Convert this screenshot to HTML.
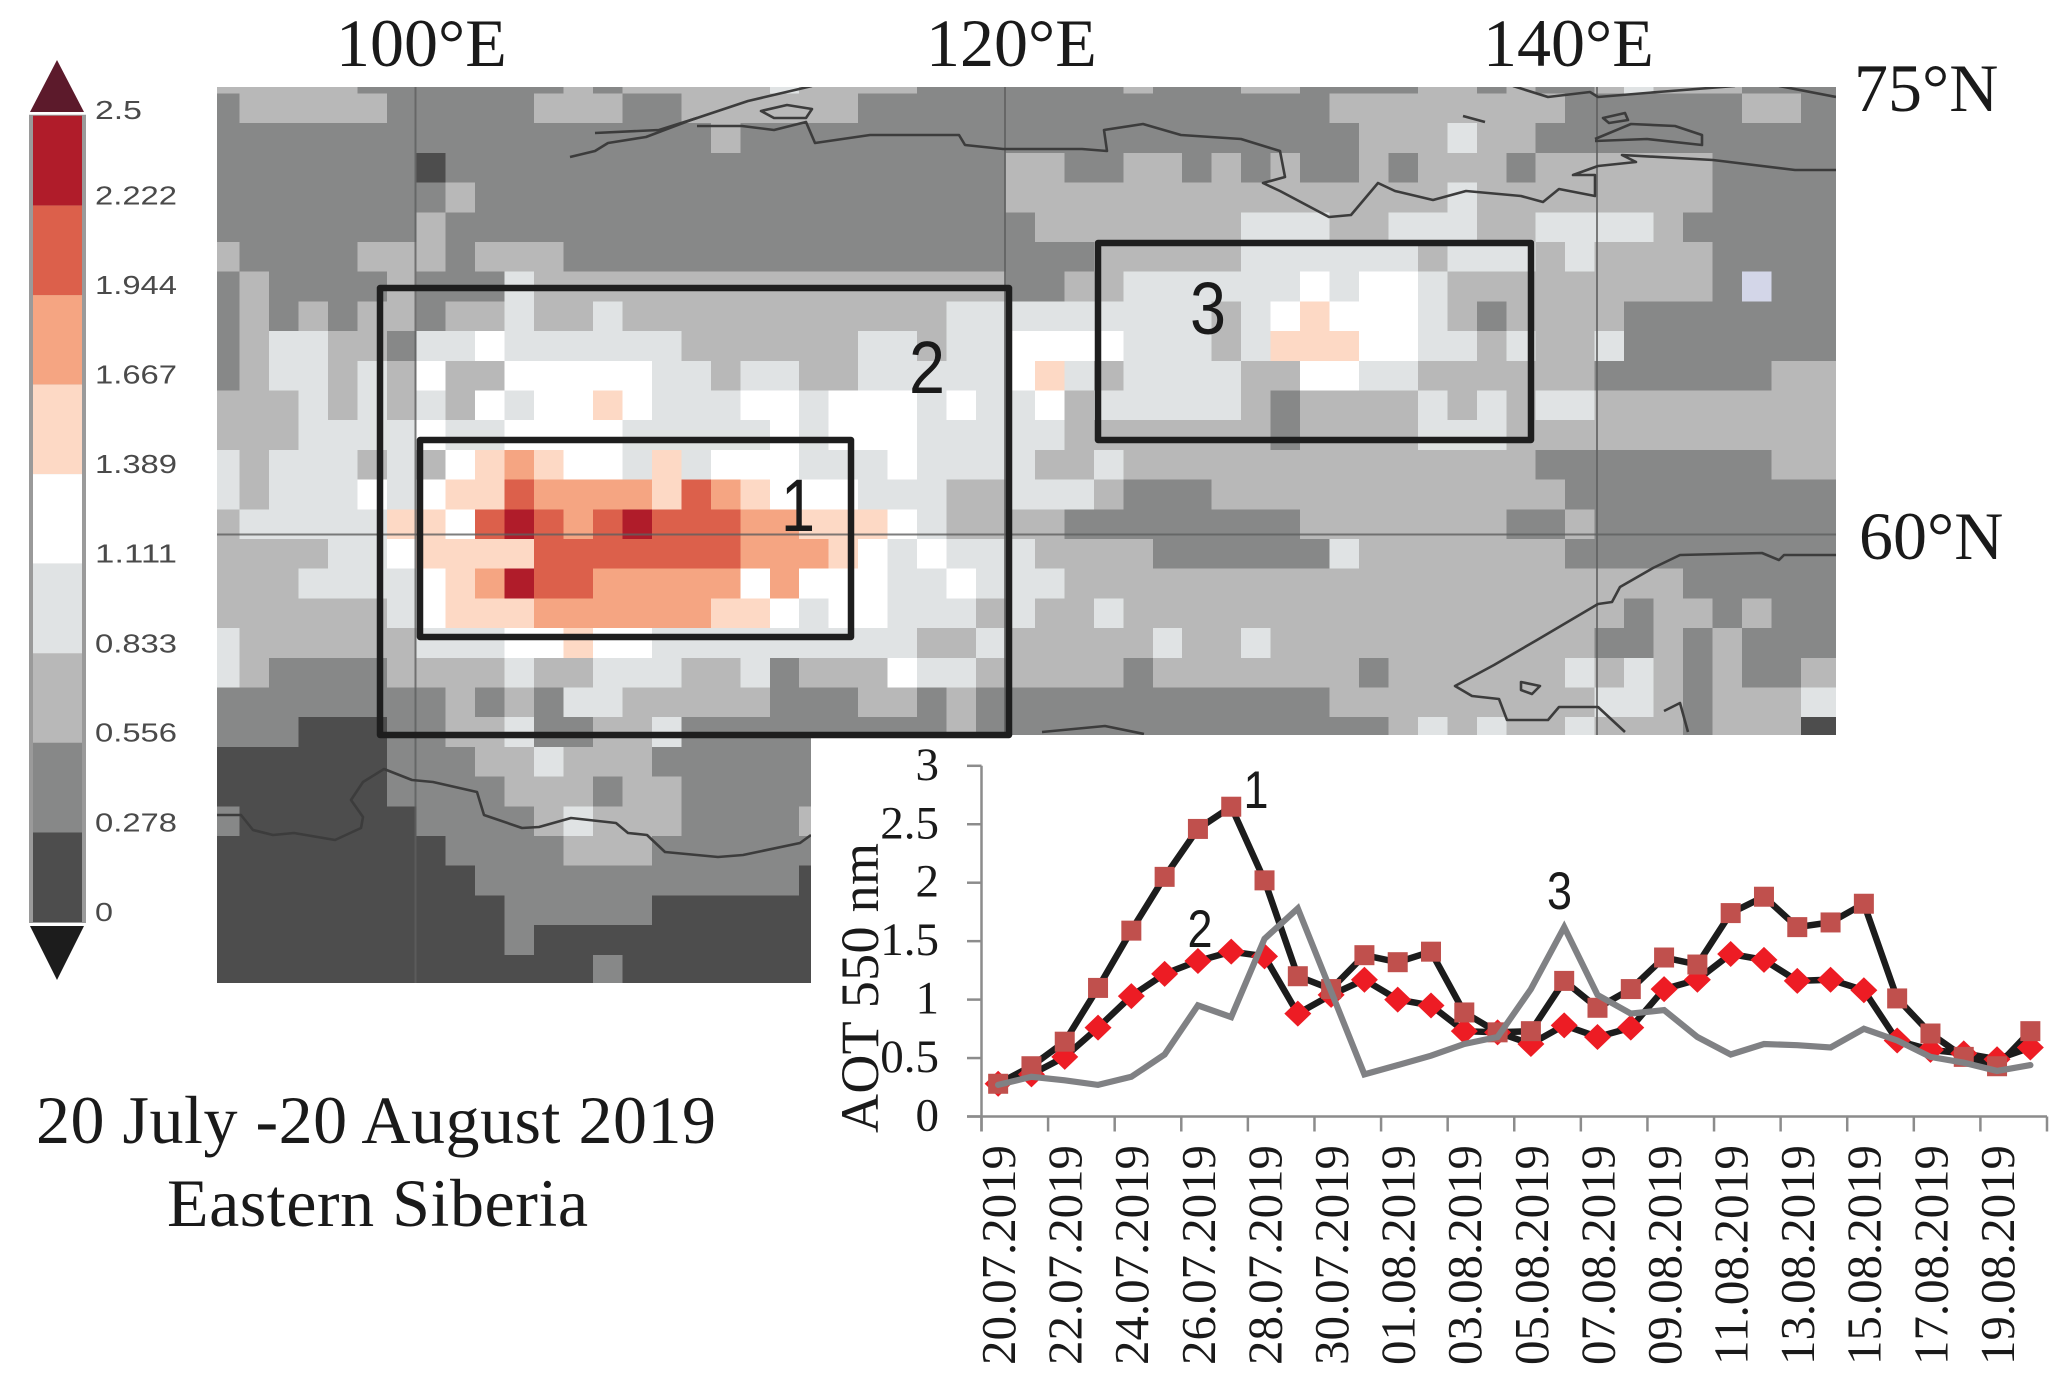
<!DOCTYPE html>
<html lang="en">
<head>
<meta charset="utf-8">
<title>AOT 550 nm, Eastern Siberia</title>
<style>
html,body{margin:0;padding:0;background:#fff;}
svg{display:block;}
.l0{fill:#4d4d4d}.l1{fill:#878888}.l2{fill:#b8b8b8}.l3{fill:#e0e3e4}.l4{fill:#ffffff}
.l5{fill:#fdd9c5}.l6{fill:#f5a582}.l7{fill:#dc604b}.l8{fill:#b01c2a}.l9{fill:#d3d6e8}
.serif{font-family:"Liberation Serif",serif;fill:#1a1a1a;}
.sans{font-family:"Liberation Sans",sans-serif;fill:#1a1a1a;}
.coast{fill:none;stroke:#3c3c3c;stroke-width:2.6;stroke-linejoin:round;}
.grid{stroke:#5f5f5f;stroke-width:2;opacity:.8;}
.box{fill:none;stroke:#1e1e1e;stroke-width:6.5;stroke-linejoin:round;}
.axis{stroke:#8c8c8c;stroke-width:2.5;fill:none;}
</style>
</head>
<body>
<svg id="figure" xmlns="http://www.w3.org/2000/svg" width="2067" height="1381" viewBox="0 0 2067 1381">
  <rect x="0" y="0" width="2067" height="1381" fill="#ffffff"/>
  <defs>
    <clipPath id="mapClip"><polygon points="217,87 1836,87 1836,735 811,735 811,983 217,983"/></clipPath>
  </defs>
  <g id="colorbar"></g>
  <g clip-path="url(#mapClip)">
    <g id="mapCells" shape-rendering="crispEdges"></g>
    <g>
      <line class="grid" x1="415.5" y1="87" x2="415.5" y2="983"/>
      <line class="grid" x1="1005" y1="87" x2="1005" y2="738"/>
      <line class="grid" x1="1597" y1="87" x2="1597" y2="738"/>
      <line class="grid" x1="217" y1="534.5" x2="1836" y2="534.5"/>
    </g>
    <g>
      <path class="coast" d="M570,157 L595,151 L608,143 L646,137 L691,120 L748,101 L812,86"/>
      <path class="coast" d="M595,133 L659,130 L697,118"/>
      <path class="coast" d="M761,111 L787,105 L812,109 L806,118 L774,118 Z"/>
      <path class="coast" d="M697,126 L742,126 L774,130 L806,122 L815,143 L870,135 L959,135 L965,145 L1003,149 L1082,149 L1107,151 L1104,130 L1143,124 L1181,135 L1241,139 L1280,151 L1285,177 L1263,183 L1280,191 L1329,217 L1351,215 L1378,183 L1395,191 L1433,200 L1466,191 L1521,196 L1543,202 L1559,189 L1595,196 L1595,175 L1573,175 L1598,166 L1636,162 L1622,155 L1713,160 L1795,170 L1836,170"/>
      <path class="coast" d="M1513,86 L1548,97 L1590,92 L1598,97 L1658,92 L1735,86 M1779,86 L1836,97"/>
      <path class="coast" d="M1603,118 L1625,113 L1628,120 L1609,123 Z"/>
      <path class="coast" d="M1595,139 L1631,124 L1675,126 L1702,135 L1702,145 L1647,139 L1595,141"/>
      <path class="coast" stroke-width="3" d="M1463,116 L1485,122"/>
      <path class="coast" d="M1836,555 L1784,555 L1779,560 L1762,553 L1680,555 L1653,568 L1620,587 L1612,602 L1598,604 L1537,640 L1494,665 L1455,686 L1472,696 L1499,699 L1507,720 L1548,720 L1559,707 L1598,707 L1625,732 M1664,711 L1680,703 L1688,732 M1521,682 L1540,686 L1532,694 L1521,690 Z"/>
      <path class="coast" d="M1042,732 L1105,726 L1144,734"/>
      <path class="coast" d="M216,815 L241,815 L253,830 L273,835 L294,833 L335,840 L361,828 L363,817 L351,800 L363,782 L384,769 L412,780 L433,782 L477,792 L484,815 L522,828 L539,827 L571,818 L616,823 L628,833 L647,835 L665,852 L718,857 L743,855 L800,843 L811,835"/>
    </g>
  </g>
  <g>
    <rect class="box" x="380" y="288" width="629" height="447"/>
    <rect class="box" x="420" y="440" width="431" height="197"/>
    <rect class="box" x="1098" y="243" width="433" height="197"/>
  </g>
  <g class="sans" font-size="74" text-anchor="middle">
    <text x="798" y="531" textLength="34" lengthAdjust="spacingAndGlyphs">1</text>
    <text x="927" y="393" textLength="36" lengthAdjust="spacingAndGlyphs">2</text>
    <text x="1208" y="334" textLength="36" lengthAdjust="spacingAndGlyphs">3</text>
  </g>
  <g class="serif" font-size="68">
    <text class="serif" x="336" y="66">100°E</text>
    <text class="serif" x="926" y="66">120°E</text>
    <text class="serif" x="1483" y="66">140°E</text>
    <text class="serif" x="1854" y="111">75°N</text>
    <text class="serif" x="1859" y="559">60°N</text>
  </g>
  <g class="serif" font-size="68">
    <text class="serif" x="36" y="1143" textLength="680">20 July -20 August 2019</text>
    <text class="serif" x="167" y="1226" textLength="421">Eastern Siberia</text>
  </g>
  <g id="chart"></g>
</svg>
<script>
// Heatmap: one string per map row, one digit per grid column (colour level).
const mapRows = [
"2222211111112122222322221111111211122111122121123222111".slice(0,0)+"2222211111"+"1121222223"+"2222111111"+"1211122111"+"1221211232"+"22111",
"1222221111"+"1222112222"+"2211111111"+"1111111122"+"2222221111"+"11221",
"1111111111"+"1111111211"+"1111111111"+"1111111112"+"2232211111"+"11111",
"1111111011"+"1111111111"+"1111111221"+"1221212112"+"1222122222"+"21111",
"1111111121"+"1111111111"+"1111111222"+"2222222222"+"2232222222"+"21111",
"1111111211"+"1111111111"+"1111111122"+"2222233322"+"3332233332"+"11111",
"2111122212"+"2211111111"+"1111111111"+"2222233333"+"3233323222"+"21111",
"1211112111"+"3222222222"+"2222222112"+"2333333434"+"4322222222"+"21911",
"1212122122"+"3223222222"+"2222233333"+"3333234544"+"4321222211"+"11111",
"1233221334"+"3333332222"+"2233233444"+"4333235554"+"4332322311"+"11111",
"1233232422"+"4444433233"+"2233333453"+"2333322443"+"3222222111"+"11122",
"2223232324"+"3445433344"+"3444343342"+"3333321222"+"2323233222"+"22222",
"2223333433"+"4444333334"+"3444333332"+"2222221222"+"2333222222"+"22222",
"3233323245"+"6544353444"+"3334333322"+"3222222222"+"2222211111"+"11122",
"3233343455"+"7666657654"+"4433322333"+"2111222222"+"2222221111"+"11111",
"2333335547"+"8767877766"+"5554322221"+"1111111222"+"2222112111"+"11111",
"2222334555"+"5777777766"+"6543433322"+"2211111132"+"2222221111"+"11111",
"2223333456"+"8776666646"+"4443343332"+"2222222222"+"2222222222"+"11111",
"2222223455"+"5666666554"+"3443332322"+"3222222222"+"2222222212"+"21211",
"3222222333"+"4454433333"+"3333223222"+"2232232222"+"2222222112"+"12111",
"3211112222"+"3223332231"+"2224332222"+"2122222221"+"2222223232"+"12112",
"1111111121"+"2133222221"+"1122121111"+"1111111122"+"2222222332"+"12223",
"1110001122"+"3112231111"+"1111121111"+"1111111111"+"2323223222"+"12220",
"000000111223222111111",
"000000111122212211111",
"100000011112322211112",
"000000001111222111111",
"000000000111111111110",
"000000000011111000000",
"000000000010000000000",
"000000000000010000000"
];

// Colorbar
const colorbarTicks = [0, 0.278, 0.556, 0.833, 1.111, 1.389, 1.667, 1.944, 2.222, 2.5];
const colorbarLabels = ["0", "0.278", "0.556", "0.833", "1.111", "1.389", "1.667", "1.944", "2.222", "2.5"];

// Line chart
const categories = ["20.07.2019","21.07.2019","22.07.2019","23.07.2019","24.07.2019","25.07.2019","26.07.2019","27.07.2019","28.07.2019","29.07.2019","30.07.2019","31.07.2019","01.08.2019","02.08.2019","03.08.2019","04.08.2019","05.08.2019","06.08.2019","07.08.2019","08.08.2019","09.08.2019","10.08.2019","11.08.2019","12.08.2019","13.08.2019","14.08.2019","15.08.2019","16.08.2019","17.08.2019","18.08.2019","19.08.2019","20.08.2019"];
const seriesRegion1 = [0.28,0.43,0.64,1.10,1.59,2.05,2.46,2.65,2.02,1.20,1.09,1.38,1.32,1.41,0.89,0.72,0.73,1.16,0.93,1.09,1.36,1.30,1.74,1.88,1.62,1.66,1.82,1.01,0.71,0.51,0.43,0.73];
const seriesRegion2 = [0.28,0.36,0.51,0.76,1.03,1.22,1.33,1.41,1.37,0.88,1.04,1.17,1.00,0.95,0.73,0.72,0.62,0.78,0.68,0.76,1.09,1.17,1.39,1.34,1.16,1.17,1.08,0.65,0.57,0.54,0.49,0.59];
const seriesRegion3 = [0.27,0.34,0.31,0.27,0.34,0.53,0.95,0.85,1.52,1.78,1.07,0.36,0.44,0.52,0.62,0.68,1.09,1.62,1.04,0.88,0.91,0.68,0.53,0.62,0.61,0.59,0.75,0.65,0.51,0.46,0.39,0.44];
const yTicks = [0, 0.5, 1, 1.5, 2, 2.5, 3];

const NS = "http://www.w3.org/2000/svg";
function mk(parent, tag, attrs) {
  const el = document.createElementNS(NS, tag);
  for (const k in attrs) el.setAttribute(k, attrs[k]);
  parent.appendChild(el);
  return el;
}

/* ---------- heatmap ---------- */
const MAP_LEFT = 217, MAP_RIGHT = 1836, MAP_TOP = 87;
function colEdge(j) { return j === 0 ? MAP_LEFT : 239.5 + 29.46 * (j - 1); }
function rowEdge(k) { return k === 0 ? MAP_TOP : 93.5 + 29.7 * (k - 1); }
const mapCells = document.getElementById("mapCells");
mapRows.forEach(function (row, r) {
  for (let c = 0; c < row.length; c++) {
    const x0 = colEdge(c);
    const x1 = c === 54 ? MAP_RIGHT : colEdge(c + 1);
    const cell = mk(mapCells, "rect", {
      x: x0, y: rowEdge(r), width: x1 - x0 + 0.5, height: rowEdge(r + 1) - rowEdge(r) + 0.5,
      "class": "l" + row[c]
    });
    
    
  }
});

/* ---------- colorbar ---------- */
const cb = document.getElementById("colorbar");
function cbY(v) { return 922 - v * 322.5; }
const cbFrame = mk(cb, "rect", { x: 29, y: cbY(2.5) - 1, width: 57, height: cbY(0) - cbY(2.5) + 2, fill: "#9a9a9a" });


for (let i = 0; i < colorbarTicks.length - 1; i++) {
  const seg = mk(cb, "rect", {
    x: 33, y: cbY(colorbarTicks[i + 1]), width: 49,
    height: cbY(colorbarTicks[i]) - cbY(colorbarTicks[i + 1]),
    "class": "l" + i
  });
  
  
}
const cbTop = mk(cb, "polygon", { points: "57,60 84,112 30,112", fill: "#5c1a2b" });


const cbBottom = mk(cb, "polygon", { points: "30,926 84,926 57,980", fill: "#1c1c1c" });


colorbarLabels.forEach(function (label, i) {
  const t = mk(cb, "text", {
    x: 95, y: cbY(colorbarTicks[i]) - (i === 9 ? -3 : 1),
    "font-size": 26, fill: "#4a4a4a",
    "font-family": '"Liberation Sans", sans-serif',
    textLength: label.length === 5 ? 82 : (label.length === 3 ? 47 : 18),
    lengthAdjust: "spacingAndGlyphs"
  });
  
  
  t.textContent = label;
});

/* ---------- line chart ---------- */
const chart = document.getElementById("chart");
const AX_X0 = 981.5, AX_X1 = 2047, AX_Y0 = 1116.5, AX_YH = 116.9;
const dayW = (AX_X1 - AX_X0) / categories.length;
function xPos(i) { return AX_X0 + dayW * (i + 0.5); }
function xEdge(i) { return AX_X0 + dayW * i; }
function yPos(v) { return AX_Y0 - v * AX_YH; }

const yAxis = mk(chart, "line", { "class": "axis", x1: AX_X0, x2: AX_X0, y1: yPos(3), y2: AX_Y0 + 15 });


const xAxis = mk(chart, "line", { "class": "axis", x1: 967, x2: AX_X1, y1: AX_Y0, y2: AX_Y0 });



yTicks.forEach(function (v) {
  const tick = mk(chart, "line", { "class": "axis", x1: 967, x2: AX_X0, y1: yPos(v), y2: yPos(v) });
  
  
  const t = mk(chart, "text", { "class": "serif", x: 939, y: yPos(v) + 14, "font-size": 47, "text-anchor": "end" });
  
  
  t.textContent = String(v);
});

categories.forEach(function (cat, i) {
  if (i % 2 !== 0) return;
  const tick = mk(chart, "line", { "class": "axis", x1: xEdge(i), x2: xEdge(i), y1: AX_Y0, y2: AX_Y0 + 15 });
  
  
  const bx = xEdge(i) + 33.5, by = 1145;
  const t = mk(chart, "text", {
    "class": "serif", x: 0, y: 0, "font-size": 49, "text-anchor": "end",
    textLength: 220, lengthAdjust: "spacingAndGlyphs",
    transform: "translate(" + bx + "," + by + ") rotate(-90)"
  });
  
  
  t.textContent = cat;
});
const endTick = mk(chart, "line", { "class": "axis", x1: AX_X1, x2: AX_X1, y1: AX_Y0, y2: AX_Y0 + 15 });



const yTitle = mk(chart, "text", {
  "class": "serif", x: 0, y: 0, "font-size": 54, textLength: 290, lengthAdjust: "spacing",
  transform: "translate(878,1133) rotate(-90)"
});


yTitle.textContent = "AOT 550 nm";

function pointsOf(values) {
  return values.map(function (v, i) { return xPos(i).toFixed(1) + "," + yPos(v).toFixed(1); }).join(" ");
}
const line1 = mk(chart, "polyline", { points: pointsOf(seriesRegion1), fill: "none", stroke: "#1c1c1c", "stroke-width": 6.5, "stroke-linejoin": "miter" });


const line2 = mk(chart, "polyline", { points: pointsOf(seriesRegion2), fill: "none", stroke: "#1c1c1c", "stroke-width": 6.5, "stroke-linejoin": "miter" });



seriesRegion2.forEach(function (v, i) {
  const cx = xPos(i), cy = yPos(v);
  const d = mk(chart, "polygon", {
    points: [cx, cy - 13, cx + 13.5, cy, cx, cy + 13, cx - 13.5, cy].join(" "),
    fill: "#ed1c24"
  });
  
  
});
seriesRegion1.forEach(function (v, i) {
  const s = mk(chart, "rect", { x: xPos(i) - 10, y: yPos(v) - 10, width: 20, height: 20, fill: "#c0504d" });
  
  
});
const line3 = mk(chart, "polyline", { points: pointsOf(seriesRegion3), fill: "none", stroke: "#808184", "stroke-width": 6.2, "stroke-linejoin": "miter", "stroke-linecap": "round" });



function seriesLabel(text, x, y) {
  const t = mk(chart, "text", {
    "class": "sans", x: x, y: y, "font-size": 53, "text-anchor": "middle",
    textLength: 25, lengthAdjust: "spacingAndGlyphs"
  });
  
  
  t.textContent = text;
}
seriesLabel("1", 1256, 808);
seriesLabel("2", 1200, 947);
seriesLabel("3", 1559.5, 909);
</script>
</body>
</html>
